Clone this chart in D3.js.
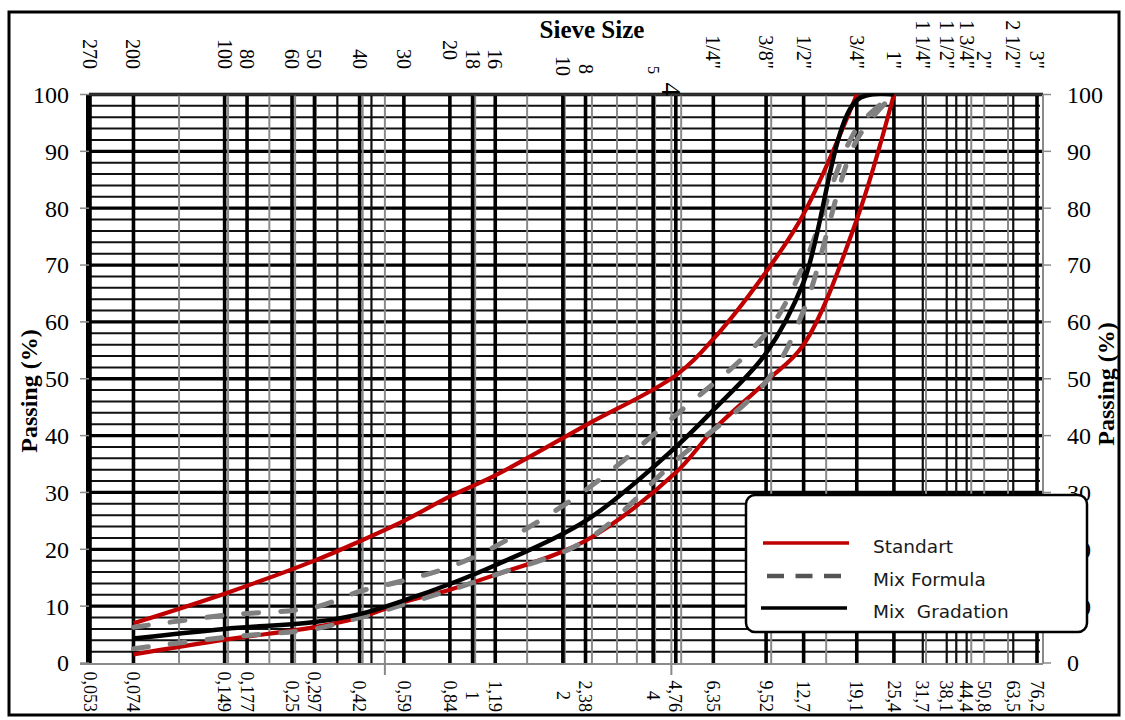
<!DOCTYPE html>
<html><head><meta charset="utf-8">
<script src="https://cdn.jsdelivr.net/npm/d3@7/dist/d3.min.js"></script>
<style>body{margin:0;background:#fff} svg{display:block}</style>
</head><body>
<svg id="chart" width="1125" height="720"></svg>
<script>
// ---- data ----
const sieveMM = [0.053,0.074,0.149,0.177,0.25,0.297,0.42,0.59,0.84,1,1.19,2,2.38,4,4.76,6.35,9.52,12.7,19.1,25.4,31.7,38.1,44.4,50.8,63.5,76.2];
const bottomLabels = ["0,053","0,074","0,149","0,177","0,25","0,297","0,42","0,59","0,84","1","1,19","2","2,38","4","4,76","6,35","9,52","12,7","19,1","25,4","31,7","38,1","44,4","50,8","63,5","76,2"];
const topLabels = ["270","200","100","80","60","50","40","30","20","18","16","10","8","5","4","1/4\"","3/8\"","1/2\"","3/4\"","1\"","1 1/4\"","1 1/2\"","1 3/4\"","2\"","2 1/2\"","3\""];
const yTicks = [0,10,20,30,40,50,60,70,80,90,100];
const yGridMinor = [2,4,6,8,12,14,16,18,22,24,26,28,32,34,36,38,42,44,46,48,52,54,56,58,62,64,66,68,72,74,76,78,82,84,86,88,92,94,96,98];

const gridThickMM = [0.053,0.074,0.149,0.177,0.25,0.297,0.42,0.59,0.84,1,1.19,2,2.38,4,4.76,6.35,9.52,12.7,19.1,25.4,76.2];
const gridMediumMM = [0.354,0.46,31.7,38.1,41,44.4,63.5];
const gridGrayMM = [0.105,0.153,0.21,0.256,0.30,0.43,0.51,1.02,1.52,2.03,2.5,3.03,3.53,4.06,4.6,4.96,9.9,15.1,32.5,46,50.8,61];

const stdUpperSize = [0.074,0.149,0.297,0.42,0.59,0.84,1.19,2.38,4.76,6.35,9.52,12.7,19.1];
const stdUpper     = [7.0,12.2,18.0,21.4,25.0,29.3,33.0,41.8,50.6,57.0,68.8,79.0,100];
const stdLowerSize = [0.074,0.149,0.297,0.42,0.59,0.84,1.19,2.38,4.76,6.35,9.52,12.7,19.1,25.4];
const stdLower     = [1.5,4.1,6.3,8.0,10.7,12.9,15.5,21.5,33.5,41.0,49.5,56.0,78.0,100];
const mixFormulaSize  = [0.074,0.149,0.297,0.42,0.59,0.84,1.19,2.38,4.76,9.52,12.7,19.1,25.4];
const mixFormulaUpper = [6.3,8.4,9.8,12.6,14.5,16.9,20.5,30.4,43.6,58.0,70.0,94.0,100];
const mixFormulaLower = [2.5,4.5,6.0,8.0,10.3,12.8,15.5,21.5,35.6,49.5,62.0,92.0,100];
const mixGradSize  = [0.074,0.149,0.297,0.42,0.59,0.84,1.19,2.38,4.76,6.35,9.52,12.7,19.1,25.4];
const mixGradation = [4.3,6.0,7.2,8.6,11.0,13.9,17.2,25.0,38.0,44.5,54.5,67.0,99.0,100];

const legendItems = ["Standart","Mix Formula","Mix  Gradation"];

// ---- drawing ----
const svg = d3.select("#chart");
const x = d3.scaleLog().domain([0.053, 76.2]).range([90, 1037]);
const y = d3.scaleLinear().domain([0, 100]).range([663, 94.5]);
const X0 = 89, X1 = 1043;
const serif = "'Liberation Serif','Times New Roman',serif";

svg.append("rect").attr("x",0).attr("y",0).attr("width",1125).attr("height",720).attr("fill","#fff");
svg.append("rect").attr("x",9).attr("y",12).attr("width",1110).attr("height",703)
  .attr("fill","none").attr("stroke","#000").attr("stroke-width",3);

svg.append("defs").append("clipPath").attr("id","plotclip")
  .append("rect").attr("x",X0).attr("y",y(100)-1).attr("width",X1-X0).attr("height",y(0)-y(100)+2);

const grid = svg.append("g");
grid.selectAll(".hmin").data(yGridMinor).join("line")
  .attr("x1",X0).attr("x2",1040).attr("y1",d=>y(d)).attr("y2",d=>y(d))
  .attr("stroke","#111").attr("stroke-width",2);
grid.selectAll(".hmaj").data(yTicks.filter(d=>d>0)).join("line")
  .attr("x1",X0).attr("x2",X1).attr("y1",d=>y(d)).attr("y2",d=>y(d))
  .attr("stroke","#000").attr("stroke-width",3.3);
grid.selectAll(".vg").data(gridGrayMM).join("line")
  .attr("x1",d=>x(d)).attr("x2",d=>x(d)).attr("y1",y(100))
  .attr("y2",d=> (d===0.51||d===4.6) ? y(0)+12 : y(0))
  .attr("stroke","#8a8a8a").attr("stroke-width",2);
grid.selectAll(".vm").data(gridMediumMM).join("line")
  .attr("x1",d=>x(d)).attr("x2",d=>x(d)).attr("y1",y(100)).attr("y2",y(0))
  .attr("stroke","#111").attr("stroke-width",2.2);
grid.selectAll(".vt").data(gridThickMM).join("line")
  .attr("x1",d=>x(d)).attr("x2",d=>x(d)).attr("y1",y(100)).attr("y2",y(0))
  .attr("stroke","#000").attr("stroke-width",3.6);
grid.append("line").attr("x1",X0-1).attr("x2",X0-1).attr("y1",y(100)).attr("y2",y(0)+1).attr("stroke","#000").attr("stroke-width",4);
grid.append("line").attr("x1",X0).attr("x2",X1).attr("y1",y(100)).attr("y2",y(100)).attr("stroke","#333").attr("stroke-width",2.5);
grid.append("line").attr("x1",80).attr("x2",X1).attr("y1",y(0)+1).attr("y2",y(0)+1).attr("stroke","#8a8a8a").attr("stroke-width",2);
grid.append("line").attr("x1",X1).attr("x2",X1).attr("y1",y(100)).attr("y2",y(0)+1).attr("stroke","#8a8a8a").attr("stroke-width",2);
grid.selectAll(".lt").data(yTicks).join("line")
  .attr("x1",80).attr("x2",X0).attr("y1",d=>y(d)).attr("y2",d=>y(d)).attr("stroke","#8a8a8a").attr("stroke-width",1.5);
grid.selectAll(".rt").data(yTicks).join("line")
  .attr("x1",X1).attr("x2",X1+8).attr("y1",d=>y(d)).attr("y2",d=>y(d)).attr("stroke","#8a8a8a").attr("stroke-width",1.5);

svg.selectAll(".yl").data(yTicks).join("text")
  .attr("x",69).attr("y",d=>y(d)).attr("dy","0.35em").attr("text-anchor","end")
  .attr("font-family",serif).attr("font-size",24).text(d=>d);
svg.selectAll(".yr").data(yTicks).join("text")
  .attr("x",1067).attr("y",d=>y(d)).attr("dy","0.35em").attr("text-anchor","start")
  .attr("font-family",serif).attr("font-size",24).text(d=>d);

svg.selectAll(".bl").data(sieveMM).join("text")
  .attr("transform",(d,i)=>`translate(${x(d)},${bottomLabels[i].length===1 ? 700 : 712}) rotate(90)`)
  .attr("dy","0.35em").attr("text-anchor","end")
  .attr("font-family",serif).attr("font-size",18).text((d,i)=>bottomLabels[i]);

svg.selectAll(".tl").data(sieveMM).join("text")
  .attr("transform",(d,i)=>{
    const t = topLabels[i];
    let yy = 69, dx = 0;
    if (t==="20") yy = 60;
    if (t==="10") yy = 76;
    if (t==="8") yy = 74;
    if (t==="5") { yy = 74; dx = 0; }
    if (t==="4") { yy = 96; dx = -4; }
    return `translate(${x(d)+dx},${yy}) rotate(90)`;
  })
  .attr("dy","0.35em").attr("text-anchor","end")
  .attr("font-family",serif)
  .attr("font-size",(d,i)=> topLabels[i]==="4" ? 27 : topLabels[i]==="5" ? 16 : 20)
  .text((d,i)=>topLabels[i]);

svg.append("text").attr("x",592).attr("y",38).attr("text-anchor","middle")
  .attr("font-family",serif).attr("font-weight","bold").attr("font-size",25).text("Sieve Size");
svg.append("text").attr("transform","translate(37,391) rotate(-90)").attr("text-anchor","middle")
  .attr("font-family",serif).attr("font-weight","bold").attr("font-size",24).text("Passing (%)");
svg.append("text").attr("transform","translate(1114,384) rotate(-90)").attr("text-anchor","middle")
  .attr("font-family",serif).attr("font-weight","bold").attr("font-size",24).text("Passing (%)");

const line = d3.line().x(d=>x(d[0])).y(d=>y(d[1])).curve(d3.curveCatmullRom.alpha(0.5));
const zip = (a,b)=>a.map((v,i)=>[v,b[i]]);
const curves = svg.append("g").attr("fill","none").attr("clip-path","url(#plotclip)");
curves.append("path").attr("d",line(zip(stdUpperSize,stdUpper))).attr("stroke","#c00000").attr("stroke-width",4.2);
curves.append("path").attr("d",line(zip(stdLowerSize,stdLower))).attr("stroke","#c00000").attr("stroke-width",4.2);
curves.append("path").attr("d",line(zip(mixFormulaSize,mixFormulaUpper))).attr("stroke","#808080").attr("stroke-width",5)
  .attr("stroke-dasharray","15,22").attr("stroke-linecap","round");
curves.append("path").attr("d",line(zip(mixFormulaSize,mixFormulaLower))).attr("stroke","#808080").attr("stroke-width",5)
  .attr("stroke-dasharray","15,22").attr("stroke-linecap","round");
curves.append("path").attr("d",line(zip(mixGradSize,mixGradation))).attr("stroke","#000").attr("stroke-width",4.5);

const lg = svg.append("g");
lg.append("rect").attr("x",746).attr("y",495).attr("width",341).attr("height",137).attr("rx",9)
  .attr("fill","#fff").attr("stroke","#000").attr("stroke-width",2.5);
const legY = [543, 576, 608];
const legStyles = [
  {stroke:"#c00000", w:3.5, dash:null, x1:763, x2:849},
  {stroke:"#555", w:4.5, dash:"17,11.5", x1:767, x2:842},
  {stroke:"#000", w:3.5, dash:null, x1:761, x2:847}
];
legendItems.forEach((t,i)=>{
  const s = legStyles[i];
  lg.append("line").attr("x1",s.x1).attr("x2",s.x2).attr("y1",legY[i]).attr("y2",legY[i])
    .attr("stroke",s.stroke).attr("stroke-width",s.w).attr("stroke-dasharray",s.dash);
  lg.append("text").attr("x",873).attr("y",legY[i]+10).attr("font-family","'DejaVu Sans',sans-serif")
    .attr("font-size",18.5).attr("fill","#1a1a1a").style("white-space","pre").text(t);
});
</script>
</body></html>
